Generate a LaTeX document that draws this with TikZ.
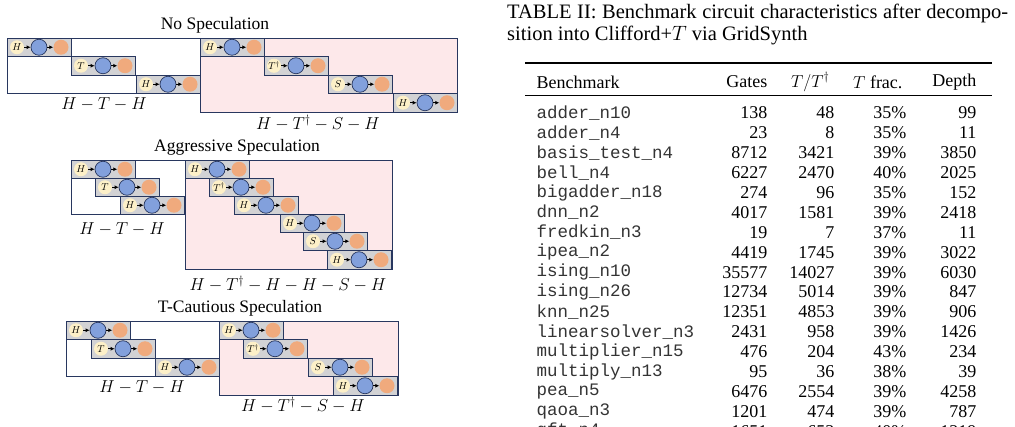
\documentclass[tikz,border=0pt]{standalone}
\usepackage{amsmath}
\usepackage{fontspec}
\setmainfont{Liberation Serif}
\setmonofont{Liberation Mono}
\usetikzlibrary{arrows.meta,positioning}
\definecolor{qnavy}{RGB}{40,55,95}
\definecolor{qgray}{RGB}{210,210,212}
\definecolor{qpink}{RGB}{253,232,234}
\definecolor{qcream}{RGB}{253,240,200}
\definecolor{qblue}{RGB}{130,160,220}
\definecolor{qorange}{RGB}{240,170,125}
\tikzset{
  stripbox/.style={draw=qnavy, fill=qgray, line width=0.9pt},
  groupbox/.style={draw=qnavy, line width=0.9pt},
  qin/.style={circle, fill=qcream, inner sep=0pt, minimum size=14pt, font=\fontsize{10}{10}\selectfont},
  qcore/.style={circle, draw=qnavy, fill=qblue, inner sep=0pt, minimum size=16pt, line width=0.7pt},
  qout/.style={circle, fill=qorange, inner sep=0pt, minimum size=15pt},
  qarr/.style={-{Latex[length=4pt,width=4pt]}, line width=1.2pt, black},
  sptitle/.style={font=\fontsize{17.5}{17.5}\selectfont},
  seq/.style={font=\fontsize{16.5}{16.5}\selectfont},
  cell/.style={font=\fontsize{18}{18}\selectfont, anchor=east},
  benchname/.style={font=\ttfamily\fontsize{17.5}{17.5}\selectfont, text=black!80, anchor=west}
}
% one pipeline strip: #1 name, #2 x, #3 y, #4 label
\newcommand{\qstrip}[4]{%
  \draw[stripbox] (#2,#3) rectangle ++(64,18.5);
  \node[qin] (#1i) at (#2+10,#3+9.25) {$#4$};
  \node[qcore] (#1c) at (#2+32,#3+9.25) {};
  \node[qout] (#1o) at (#2+54,#3+9.25) {};
  \draw[qarr] (#1i) -- (#1c);
  \draw[qarr] (#1c) -- (#1o);
}
\begin{document}
\begin{tikzpicture}[x=1pt,y=-1pt]
\useasboundingbox (0,0) rectangle (1015,427);
% No Speculation
\node[sptitle] (t1) at (215,25) {No Speculation};
\draw[groupbox, fill=white] (7,38) rectangle (200,93);
\draw[groupbox, fill=qpink] (200,38) rectangle (457,112);
\qstrip{a1}{7}{38}{H}
\qstrip{a2}{71}{56.5}{T}
\qstrip{a3}{136}{75}{H}
\qstrip{b1}{200}{38}{H}
\qstrip{b2}{264}{56.5}{T^\dagger}
\qstrip{b3}{328}{75}{S}
\qstrip{b4}{393}{93.5}{H}
\node[seq] (s1) at (104,104) {$H-T-H$};
\node[seq] (s2) at (318,123) {$H-T^\dagger-S-H$};
% Aggressive Speculation
\node[sptitle] (t2) at (237,147) {Aggressive Speculation};
\draw[groupbox, fill=white] (71,160) rectangle (185,214);
\draw[groupbox, fill=qpink] (185,160) rectangle (392,269);
\qstrip{c1}{71}{160}{H}
\qstrip{c2}{95}{178}{T}
\qstrip{c3}{120}{196}{H}
\qstrip{d1}{185}{160}{H}
\qstrip{d2}{209}{178}{T^\dagger}
\qstrip{d3}{234}{196}{H}
\qstrip{d4}{280}{214}{H}
\qstrip{d5}{303}{232}{S}
\qstrip{d6}{327}{250.5}{H}
\node[seq] (s3) at (122,229) {$H-T-H$};
\node[seq] (s4) at (288,284) {$H-T^\dagger-H-H-S-H$};
% T-Cautious Speculation
\node[sptitle] (t3) at (240,308) {T-Cautious Speculation};
\draw[groupbox, fill=white] (66,321) rectangle (219,376);
\draw[groupbox, fill=qpink] (219,321) rectangle (398,395);
\qstrip{e1}{66}{321}{H}
\qstrip{e2}{91}{339.5}{T}
\qstrip{e3}{155}{358}{H}
\qstrip{f1}{219}{321}{H}
\qstrip{f2}{243}{339.5}{T^\dagger}
\qstrip{f3}{308}{358}{S}
\qstrip{f4}{333}{376.5}{H}
\node[seq] (s5) at (142,387) {$H-T-H$};
\node[seq] (s6) at (303,405) {$H-T^\dagger-S-H$};
% Table
\node[anchor=base west, font=\fontsize{20.5}{20.5}\selectfont, inner sep=0pt] (cap1) at (507,19)
  {\makebox[501pt][s]{TABLE II: Benchmark circuit characteristics after decompo-}};
\node[anchor=base west, font=\fontsize{20.5}{20.5}\selectfont, inner sep=0pt] (cap2) at (507,41)
  {sition into Clifford+$T$ via GridSynth};
\draw[line width=1.2pt] (525,63) -- (992,63);
\draw[line width=0.7pt] (525,95) -- (992,95);
\node[cell, anchor=west] (hb) at (533,82) {Benchmark};
\node[cell] (hg) at (771,82) {Gates};
\node[cell] (ht) at (833,82) {$T/T^\dagger$};
\node[cell] (hf) at (906,82) {$T$ frac.};
\node[cell] (hd) at (980,82) {Depth};
\foreach \n/\g/\t/\f/\d [count=\i from 0] in {
  adder\_n10/138/48/35/99, adder\_n4/23/8/35/11, basis\_test\_n4/8712/3421/39/3850,
  bell\_n4/6227/2470/40/2025, bigadder\_n18/274/96/35/152, dnn\_n2/4017/1581/39/2418,
  fredkin\_n3/19/7/37/11, ipea\_n2/4419/1745/39/3022, ising\_n10/35577/14027/39/6030,
  ising\_n26/12734/5014/39/847, knn\_n25/12351/4853/39/906, linearsolver\_n3/2431/958/39/1426,
  multiplier\_n15/476/204/43/234, multiply\_n13/95/36/38/39, pea\_n5/6476/2554/39/4258,
  qaoa\_n3/1201/474/39/787, qft\_n4/1651/653/40/1219} {
  \node[benchname] (n\i) at (533,113+19.9*\i) {\n};
  \node[cell] (g\i) at (771,113+19.9*\i) {\g};
  \node[cell] (x\i) at (838,113+19.9*\i) {\t};
  \node[cell] (f\i) at (910,113+19.9*\i) {\f\%};
  \node[cell] (d\i) at (980,113+19.9*\i) {\d};
}
\end{tikzpicture}
\end{document}
